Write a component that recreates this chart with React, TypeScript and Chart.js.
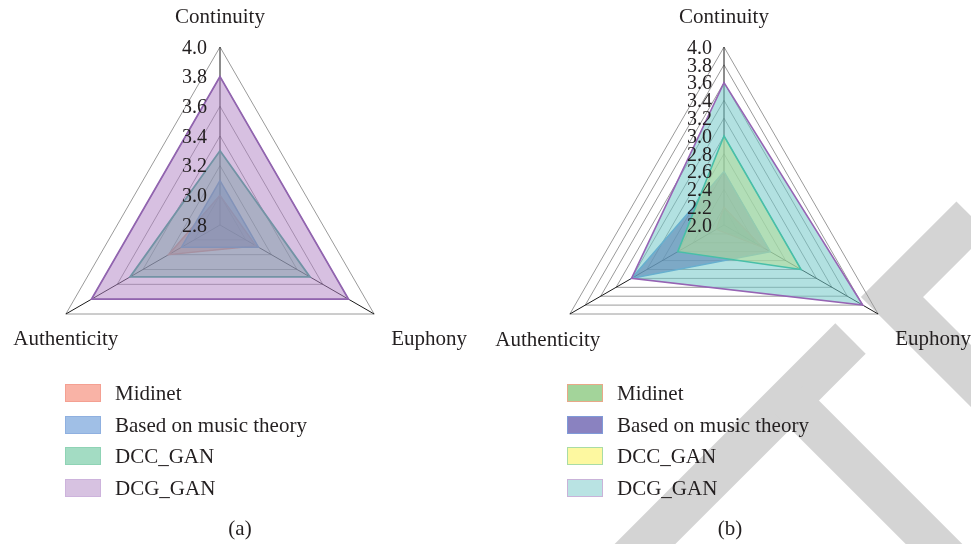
import React, { useEffect, useRef } from "react";
import { Chart, registerables } from "chart.js";

Chart.register(...registerables);

// ---------- data ----------
const axisLabels = ["Continuity", "Euphony", "Authenticity"];
const seriesNames = ["Midinet", "Based on music theory", "DCC_GAN", "DCG_GAN"];

// panel (a)
const aMidinet = [3.0, 3.08, 3.2];
const aMusicTheory = [3.1, 3.1, 3.1];
const aDCC = [3.3, 3.5, 3.5];
const aDCG = [3.8, 3.8, 3.8];
const aTicks = [2.8, 3.0, 3.2, 3.4, 3.6, 3.8, 4.0];

// panel (b)
const bMidinet = [2.2, 2.5, 2.1];
const bMusicTheory = [2.6, 2.6, 3.2];
const bDCC = [3.0, 3.0, 2.6];
const bDCG = [3.6, 3.8, 3.2];
const bTicks = [2.0, 2.2, 2.4, 2.6, 2.8, 3.0, 3.2, 3.4, 3.6, 3.8, 4.0];

// ---------- styles ----------
const FONT = "'Liberation Serif', 'Times New Roman', serif";
const TEXT = "#231f20";

const aStyle = {
  fills: ["rgba(240,110,90,0.5)", "rgba(80,140,215,0.55)", "rgba(80,190,140,0.5)", "rgba(175,130,195,0.5)"],
  borders: ["rgb(235,130,115)", "rgb(95,140,210)", "rgb(55,165,135)", "rgb(145,100,175)"],
  widths: [1.5, 1.5, 1.8, 1.8],
  legendBg: ["#f9b3a6", "#a0bfe6", "#a3dcc3", "#d7c2e1"],
  legendBorder: ["#f4a092", "#8fb0e0", "#8fd3b5", "#cdb3dc"],
};
const bStyle = {
  fills: ["rgba(110,190,100,0.6)", "rgba(80,70,165,0.67)", "rgba(255,245,100,0.6)", "rgba(115,200,200,0.55)"],
  borders: ["rgb(230,150,120)", "rgb(90,145,215)", "rgb(20,180,130)", "rgb(150,100,180)"],
  widths: [1.3, 1.5, 1.6, 1.6],
  legendBg: ["#a3d49a", "#8a82c0", "#fdf8a0", "#b9e3e3"],
  legendBorder: ["#e8a888", "#7f9ad8", "#a9dca6", "#c9b3d9"],
};

type Off = { dx: number; dy: number; align: CanvasTextAlign };

function makeLabelPlugin(tickGap: number, offsets: Off[]) {
  return {
    id: "customLabels",
    afterDatasetsDraw(chart: any) {
      const s = chart.scales.r;
      const ctx = chart.ctx;
      ctx.save();
      ctx.fillStyle = TEXT;
      ctx.font = `20px ${FONT}`;
      ctx.textAlign = "right";
      ctx.textBaseline = "middle";
      s.ticks.forEach((t: any) => {
        const d = s.getDistanceFromCenterForValue(t.value);
        ctx.fillText(Number(t.value).toFixed(1), s.xCenter - tickGap, s.yCenter - d + 1.5);
      });
      ctx.font = `21px ${FONT}`;
      chart.data.labels.forEach((lab: string, i: number) => {
        const p = s.getPointPosition(i, s.drawingArea);
        const o = offsets[i];
        ctx.textAlign = o.align;
        ctx.fillText(lab, p.x + o.dx, p.y + o.dy);
      });
      ctx.restore();
    },
  };
}

function RadarPanel(props: {
  series: number[][];
  ticks: number[];
  style: any;
  left: number;
  width: number;
  height: number;
  padding: { left: number; right: number; top: number; bottom: number };
  tickGap: number;
  offsets: Off[];
}) {
  const ref = useRef<HTMLCanvasElement | null>(null);
  useEffect(() => {
    if (!ref.current) return;
    const { series, ticks, style } = props;
    const orders = [4, 3, 2, 1];
    const chart = new Chart(ref.current, {
      type: "radar",
      data: {
        labels: axisLabels,
        datasets: series.map((vals, i) => ({
          label: seriesNames[i],
          data: vals,
          backgroundColor: style.fills[i],
          borderColor: style.borders[i],
          borderWidth: style.widths[i],
          pointRadius: 0,
          pointHoverRadius: 0,
          fill: true,
          order: orders[i],
        })),
      },
      options: {
        responsive: false,
        animation: false,
        devicePixelRatio: 1,
        layout: { padding: props.padding },
        plugins: { legend: { display: false }, tooltip: { enabled: false } },
        scales: {
          r: {
            min: ticks[0],
            max: ticks[ticks.length - 1],
            beginAtZero: false,
            afterBuildTicks: (scale: any) => {
              scale.ticks = ticks.map((v) => ({ value: v }));
            },
            ticks: { display: false, stepSize: 0.2 },
            pointLabels: { display: false },
            grid: { color: "#9a9a9a", lineWidth: 1 },
            angleLines: { color: "#1a1a1a", lineWidth: 1 },
          },
        },
      } as any,
      plugins: [makeLabelPlugin(props.tickGap, props.offsets)],
    });
    return () => chart.destroy();
  }, []);
  return (
    <canvas
      ref={ref}
      width={props.width}
      height={props.height}
      style={{ position: "absolute", left: props.left, top: 0, width: props.width, height: props.height, zIndex: 1 }}
    />
  );
}

function Legend(props: { left: number; textLeft: number; style: any }) {
  const rowsY = [393, 424.7, 456.4, 488];
  return (
    <>
      {seriesNames.map((n, i) => (
        <React.Fragment key={n}>
          <div
            style={{
              position: "absolute",
              left: props.left,
              top: rowsY[i] - 9,
              width: 36,
              height: 18,
              boxSizing: "border-box",
              background: props.style.legendBg[i],
              border: `1.5px solid ${props.style.legendBorder[i]}`,
              zIndex: 2,
            }}
          />
          <div
            style={{
              position: "absolute",
              left: props.textLeft,
              top: rowsY[i] - 13,
              height: 26,
              lineHeight: "26px",
              fontFamily: FONT,
              fontSize: 21,
              color: TEXT,
              whiteSpace: "nowrap",
              zIndex: 2,
            }}
          >
            {n}
          </div>
        </React.Fragment>
      ))}
    </>
  );
}

function Caption(props: { cx: number; text: string }) {
  return (
    <div
      style={{
        position: "absolute",
        left: props.cx - 40,
        width: 80,
        top: 515,
        height: 26,
        lineHeight: "26px",
        textAlign: "center",
        fontFamily: FONT,
        fontSize: 21,
        color: TEXT,
        zIndex: 2,
      }}
    >
      {props.text}
    </div>
  );
}

export default function App() {
  return (
    <div style={{ position: "absolute", left: 0, top: 0, width: 971, height: 544, overflow: "hidden", background: "#fff" }}>
      <svg width={971} height={544} style={{ position: "absolute", left: 0, top: 0, zIndex: 0 }}>
        <polyline points="972,217 892,297 1010,415" fill="none" stroke="#d4d4d4" strokeWidth={44} strokeLinejoin="miter" />
        <line x1={850.5} y1={338.5} x2={580} y2={609} stroke="#d4d4d4" strokeWidth={43} />
        <line x1={789.5} y1={399.5} x2={1010} y2={620} stroke="#d4d4d4" strokeWidth={40} />
      </svg>
      <RadarPanel
        series={[aMidinet, aMusicTheory, aDCC, aDCG]}
        ticks={aTicks}
        style={aStyle}
        left={0}
        width={490}
        height={420}
        padding={{ left: 42, right: 91, top: 47, bottom: 16 }}
        tickGap={13}
        offsets={[
          { dx: 0, dy: -30, align: "center" },
          { dx: 17, dy: 25, align: "left" },
          { dx: 0, dy: 25, align: "center" },
        ]}
      />
      <RadarPanel
        series={[bMidinet, bMusicTheory, bDCC, bDCG]}
        ticks={bTicks}
        style={bStyle}
        left={490}
        width={481}
        height={420}
        padding={{ left: 56, right: 68, top: 47, bottom: 16 }}
        tickGap={12}
        offsets={[
          { dx: 0, dy: -30, align: "center" },
          { dx: 17, dy: 25, align: "left" },
          { dx: -22, dy: 26, align: "center" },
        ]}
      />
      <Legend left={65} textLeft={115} style={aStyle} />
      <Legend left={567} textLeft={617} style={bStyle} />
      <Caption cx={240} text="(a)" />
      <Caption cx={730} text="(b)" />
    </div>
  );
}
